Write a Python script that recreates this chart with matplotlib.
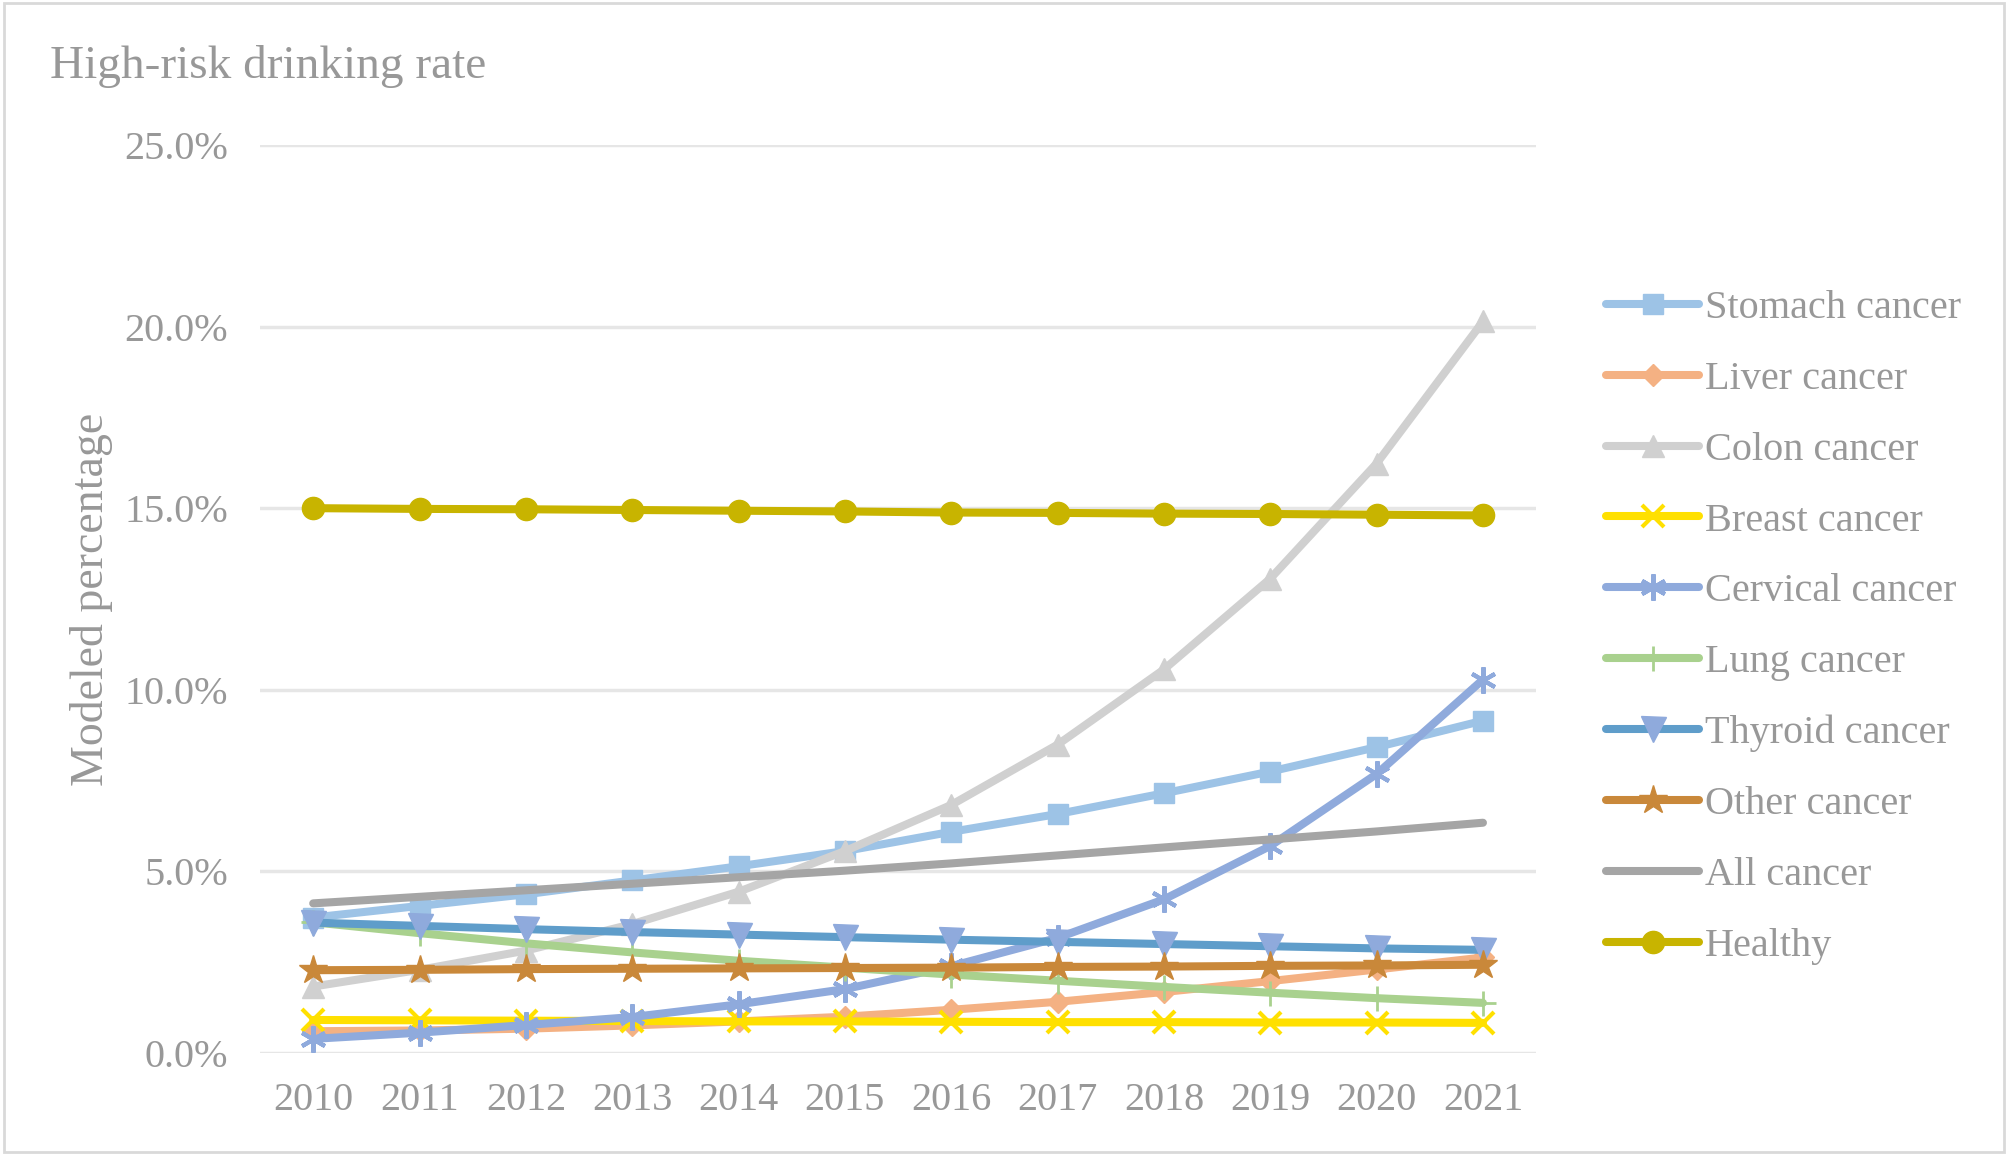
import matplotlib
matplotlib.use("Agg")
import matplotlib.pyplot as plt
from matplotlib.ticker import FuncFormatter
from matplotlib.patches import Rectangle

years = [2010, 2011, 2012, 2013, 2014, 2015, 2016, 2017, 2018, 2019, 2020, 2021]

stomach = [3.73, 4.05, 4.37, 4.75, 5.14, 5.56, 6.09, 6.58, 7.15, 7.75, 8.42, 9.15]
liver = [0.60, 0.62, 0.67, 0.76, 0.87, 1.00, 1.19, 1.41, 1.68, 1.98, 2.30, 2.63]
colon = [1.83, 2.29, 2.82, 3.55, 4.44, 5.56, 6.83, 8.49, 10.56, 13.06, 16.23, 20.14]
breast = [0.91, 0.90, 0.89, 0.88, 0.87, 0.87, 0.86, 0.85, 0.85, 0.84, 0.84, 0.83]
cervical = [0.39, 0.56, 0.77, 0.99, 1.34, 1.76, 2.39, 3.17, 4.23, 5.70, 7.68, 10.28]
lung = [3.60, 3.30, 3.02, 2.77, 2.54, 2.35, 2.16, 1.99, 1.82, 1.66, 1.51, 1.38]
thyroid = [3.59, 3.50, 3.41, 3.33, 3.26, 3.19, 3.12, 3.06, 3.00, 2.94, 2.88, 2.84]
other = [2.28, 2.29, 2.31, 2.32, 2.33, 2.34, 2.35, 2.37, 2.38, 2.40, 2.41, 2.43]
all_cancer = [4.12, 4.30, 4.48, 4.66, 4.84, 5.02, 5.22, 5.44, 5.66, 5.88, 6.10, 6.34]
healthy = [15.00, 14.98, 14.97, 14.95, 14.93, 14.91, 14.88, 14.87, 14.85, 14.84, 14.82, 14.80]

series_names = ["Stomach cancer", "Liver cancer", "Colon cancer", "Breast cancer",
                "Cervical cancer", "Lung cancer", "Thyroid cancer", "Other cancer",
                "All cancer", "Healthy"]
series_values = [stomach, liver, colon, breast, cervical, lung, thyroid, other,
                 all_cancer, healthy]

styles = [
    dict(color="#9DC3E6", marker="s", ms=15, mfc="#9DC3E6", mec="#9DC3E6"),
    dict(color="#F4B183", marker="D", ms=11, mfc="#F4B183", mec="#F4B183"),
    dict(color="#D0D0D0", marker="^", ms=16, mfc="#D0D0D0", mec="#D0D0D0"),
    dict(color="#FFE000", marker="x", ms=16, mfc="#FFE000", mec="#FFE000", mew=3),
    dict(color="#8FAADC", marker=(6, 2, 0), ms=19, mfc="#8FAADC", mec="#8FAADC", mew=3),
    dict(color="#A9D18E", marker="+", ms=18, mfc="#A9D18E", mec="#A9D18E", mew=2),
    dict(color="#5F9DCA", marker="v", ms=18, mfc="#8FAADC", mec="#8FAADC"),
    dict(color="#C9883A", marker="*", ms=21, mfc="#C9883A", mec="#C9883A"),
    dict(color="#A5A5A5", marker=None),
    dict(color="#C8B400", marker="o", ms=16, mfc="#C8B400", mec="#C8B400"),
]

plt.rcParams['font.family'] = ['Liberation Serif', 'DejaVu Serif']
text_color = "#989898"

fig = plt.figure(figsize=(20.08, 11.55), dpi=100)
ax = fig.add_axes([0.1295, 0.0883, 0.6355, 0.7862])

for i, (name, vals, st) in enumerate(zip(series_names, series_values, styles)):
    st = dict(st)
    color = st.pop("color")
    marker = st.pop("marker")
    ax.plot(years, [v / 100 for v in vals], color=color, lw=5.8, marker=marker,
            label=name, zorder=3 + i, solid_capstyle="round",
            solid_joinstyle="round", **st)

ax.set_xlim(2009.5, 2021.5)
ax.set_ylim(0, 0.25)
ax.set_yticks([0, 0.05, 0.10, 0.15, 0.20, 0.25])
ax.yaxis.set_major_formatter(FuncFormatter(lambda v, p: f"{v*100:.1f}%"))
ax.set_xticks(years)
ax.set_xticklabels([str(y) for y in years])
ax.grid(axis="y", color="#E6E6E6", lw=2.5, zorder=0)
ax.set_axisbelow(True)
for s in ax.spines.values():
    s.set_visible(False)
ax.tick_params(axis="both", length=0, labelsize=29, colors=text_color)
ax.tick_params(axis="x", pad=21)
ax.tick_params(axis="y", pad=23)

ax.set_ylabel("Modeled percentage", fontsize=33, color=text_color)
ax.yaxis.set_label_coords(-0.115, 0.5)

fig.text(0.025, 0.942, "High-risk drinking rate", fontsize=34, color=text_color,
         ha="left", va="center")

leg = fig.legend(loc="upper left", bbox_to_anchor=(0.792, 0.763), frameon=False,
                 fontsize=29, handlelength=2.3, handletextpad=0.15,
                 labelspacing=0.835, borderaxespad=0)
for t in leg.get_texts():
    t.set_color(text_color)

fig.patches.append(Rectangle((0.002, 0.003), 0.996, 0.994, transform=fig.transFigure,
                             fill=False, edgecolor="#D9D9D9", lw=2))

fig.savefig("out.png", dpi=100, facecolor="white")
